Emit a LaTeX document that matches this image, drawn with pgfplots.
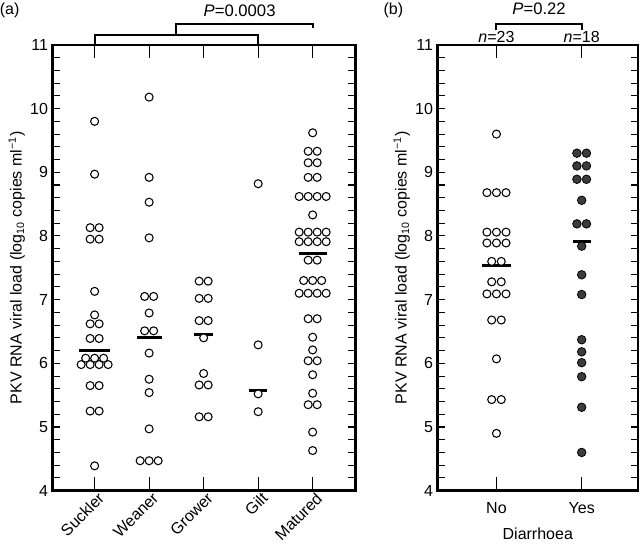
\documentclass[border=0pt]{standalone}
\usepackage{fontspec}
\setmainfont{Liberation Sans}
\usepackage{pgfplots}
\pgfplotsset{compat=1.18}
\definecolor{dotfill}{RGB}{60,60,60}
\pgfplotsset{
  panel/.style={
    scale only axis, height=334.3pt,
    ymin=4, ymax=11, ytick={4,...,11}, minor y tick num=4,
    clip=false,
    axis line style={line width=2pt},
    tick style={line width=0.8pt, black},
    major tick length=5.5pt, minor tick length=5.5pt,
    xtick style={/pgfplots/major tick length=10pt},
    font=\fontsize{12}{14}\selectfont,
    /pgf/number format/assume math mode=true,
    ylabel={PKV RNA viral load (log\textsubscript{10} copies ml\textsuperscript{−1})},
    ylabel style={font=\fontsize{12}{14}\selectfont, yshift=-3pt},
  },
  opendot/.style={only marks, mark=*, mark size=3pt, mark options={fill=white, draw=black, line width=0.8pt}},
  filldot/.style={only marks, mark=*, mark size=3.2pt, mark options={fill=dotfill, draw=black, line width=0.6pt}},
  med/.style={line width=2.2pt, black},
}
\begin{document}
\begin{tikzpicture}
% ---------------- panel (a)
\begin{axis}[panel, name=A, width=227.3pt,
  xmin=-0.77, xmax=4.79, xtick={0,1,2,3,4},
  xticklabels={Suckler,Weaner,Grower,Gilt,Matured},
  xticklabel style={rotate=45, anchor=north east, inner sep=1pt, yshift=-0.5pt, xshift=2pt},
]
% Suckler
\addplot[opendot] coordinates {
(0,9.8) (0,8.97)
(-0.0825,8.13) (0.0825,8.13) (-0.0825,7.95) (0.0825,7.95)
(0,7.13) (0,6.76) (-0.0825,6.62) (0.0825,6.62)
(-0.0825,6.39) (0.0825,6.39)
(-0.165,6.08) (0,6.08) (0.165,6.08)
(-0.2475,5.98) (-0.0825,5.98) (0.0825,5.98) (0.2475,5.98)
(-0.0825,5.65) (0.0825,5.65) (-0.0825,5.25) (0.0825,5.25)
(0,4.39)};
% Weaner
\addplot[opendot] coordinates {
(1,10.18) (1,8.92) (1,8.53) (1,7.97)
(0.9175,7.05) (1.0825,7.05) (1,6.79)
(0.9175,6.51) (1.0825,6.51) (1,6.16)
(1,5.75) (1,5.54) (1,4.97)
(0.835,4.47) (1,4.47) (1.165,4.47)};
% Grower
\addplot[opendot] coordinates {
(1.9175,7.29) (2.0825,7.29) (1.9175,7.02) (2.0825,7.02)
(1.9175,6.67) (2.0825,6.67) (2,6.4)
(2,5.84) (1.9175,5.66) (2.0825,5.66)
(1.9175,5.16) (2.0825,5.16)};
% Gilt
\addplot[opendot] coordinates {
(3,8.82) (3,6.29) (3,5.52) (3,5.24)};
% Matured
\addplot[opendot] coordinates {
(4,9.62)
(3.9175,9.33) (4.0825,9.33) (3.9175,9.15) (4.0825,9.15)
(3.9175,8.92) (4.0825,8.92)
(3.7525,8.62) (3.9175,8.62) (4.0825,8.62) (4.2475,8.62)
(4,8.33)
(3.7525,8.06) (3.9175,8.06) (4.0825,8.06) (4.2475,8.06)
(3.7525,7.91) (3.9175,7.91) (4.0825,7.91) (4.2475,7.91)
(3.9175,7.62) (4.0825,7.62)
(3.835,7.3) (4,7.3) (4.165,7.3)
(3.7525,7.1) (3.9175,7.1) (4.0825,7.1) (4.2475,7.1)
(3.9175,6.7) (4.0825,6.7)
(4,6.41) (4,6.21) (3.9175,6.04) (4.0825,6.04)
(4,5.82) (4,5.53) (3.9175,5.35) (4.0825,5.35)
(4,4.92) (4,4.63)};
% medians
\addplot[med] coordinates {(-0.28,6.2) (0.28,6.2)};
\addplot[med] coordinates {(0.77,6.41) (1.23,6.41)};
\addplot[med] coordinates {(1.83,6.45) (2.17,6.45)};
\addplot[med] coordinates {(2.83,5.58) (3.17,5.58)};
\addplot[med] coordinates {(3.74,7.72) (4.26,7.72)};
% bracket annotations
\draw[line width=1.5pt] (axis cs:0,11.0) -- (axis cs:0,11.149) -- (axis cs:3,11.149) -- (axis cs:3,11.0);
\draw[line width=1.5pt] (axis cs:1.5,11.149) -- (axis cs:1.5,11.33) -- (axis cs:4,11.33) -- (axis cs:4,11.267);
\node[font=\fontsize{12.5}{14}\selectfont] at (axis cs:2.66,11.53) {\textit{P}=0.0003};
\node[font=\fontsize{12}{14}\selectfont] at (axis cs:-1.56,11.55) {(a)};
\end{axis}
% ---------------- panel (b)
\begin{axis}[panel, name=B, at={(288.75pt,0)}, width=150.2pt,
  xmin=-0.69, xmax=1.66, xtick={0,1},
  xticklabels={No,Yes},
  xticklabel style={yshift=-5pt},
  xlabel={Diarrhoea}, xlabel style={yshift=-4pt},
]
\addplot[opendot] coordinates {
(0,9.6)
(-0.112,8.68) (0,8.68) (0.112,8.68)
(-0.112,8.06) (0,8.06) (0.112,8.06)
(-0.112,7.89) (0,7.89) (0.112,7.89)
(-0.056,7.6) (0.056,7.6)
(-0.056,7.28) (0.056,7.28)
(-0.112,7.09) (0,7.09) (0.112,7.09)
(-0.056,6.68) (0.056,6.68)
(0,6.07)
(-0.056,5.43) (0.056,5.43)
(0,4.9)};
\addplot[filldot] coordinates {
(0.944,9.3) (1.056,9.3) (0.944,9.1) (1.056,9.1) (0.944,8.89) (1.056,8.89)
(1,8.56)
(0.944,8.19) (1.056,8.19)
(1,7.84) (1,7.39) (1,7.08)
(1,6.37) (1,6.18) (1,6.01) (1,5.79)
(1,5.31) (1,4.6)};
\addplot[med] coordinates {(-0.165,7.54) (0.165,7.54)};
\addplot[med] coordinates {(0.894,7.92) (1.106,7.92)};
\draw[line width=1.5pt] (axis cs:0,11.236) -- (axis cs:0,11.33) -- (axis cs:1,11.33) -- (axis cs:1,11.236);
\node[font=\fontsize{12}{14}\selectfont] at (axis cs:0,11.126) {\textit{n}=23};
\node[font=\fontsize{12}{14}\selectfont] at (axis cs:1,11.126) {\textit{n}=18};
\node[font=\fontsize{12.5}{14}\selectfont] at (axis cs:0.5,11.57) {\textit{P}=0.22};
\node[font=\fontsize{12}{14}\selectfont] at (axis cs:-1.21,11.55) {(b)};
\end{axis}
\pgfresetboundingbox
\path[use as bounding box] (-39.5pt,-40.7pt) rectangle (440.5pt,368pt);
\end{tikzpicture}
\end{document}
